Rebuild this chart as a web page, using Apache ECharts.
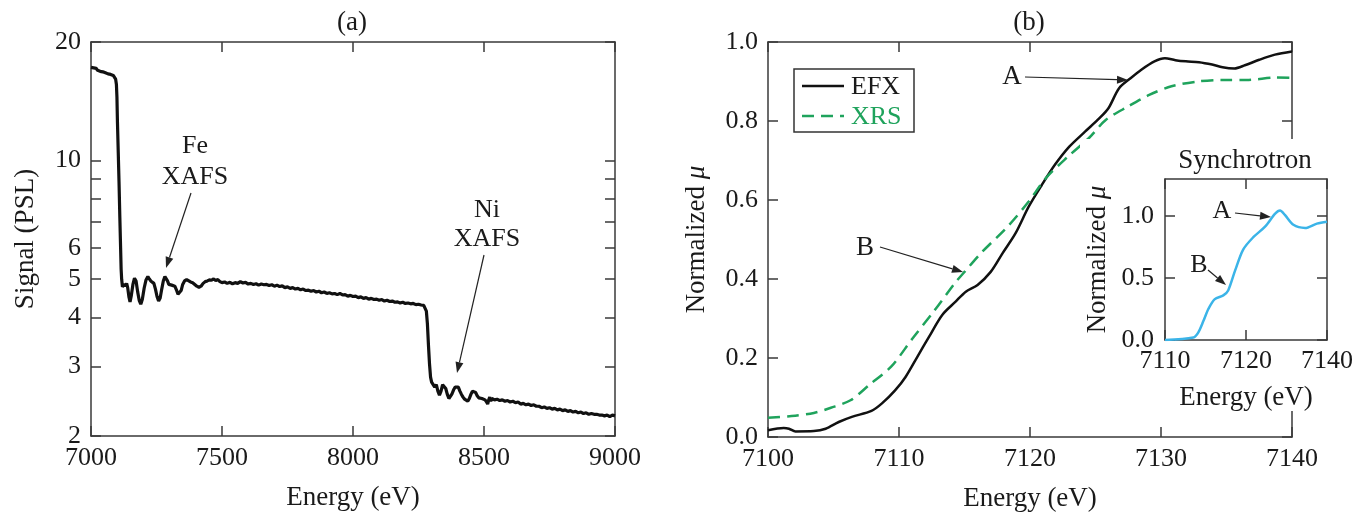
<!DOCTYPE html>
<html><head><meta charset="utf-8">
<script src="https://cdn.jsdelivr.net/npm/echarts@6/dist/echarts.min.js"></script>
<style>html,body{margin:0;padding:0;background:#fff}#c{width:1356px;height:512px}</style>
</head><body><div id="c"></div>
<script>
// ---------- Panel (a): transmitted signal, log scale ----------
const energyA = [7000,7005,7010,7015,7020,7025,7030,7035,7040,7045,7050,7055,7060,7065,7070,7075,7080,7085,7090,7094,7097,7099,7101,7104,7107,7110,7113,7115,7117,7120,7124,7128,7132,7136,7140,7145,7149,7154,7160,7166,7172,7178,7184,7190,7196,7203,7210,7217,7222,7228,7234,7240,7246,7252,7258,7264,7270,7276,7282,7287,7292,7297,7302,7308,7314,7320,7326,7332,7338,7344,7350,7357,7365,7372,7380,7388,7396,7404,7412,7420,7428,7436,7444,7452,7460,7468,7476,7484,7492,7500,7510,7520,7530,7540,7550,7560,7570,7580,7590,7600,7610,7620,7630,7640,7650,7660,7670,7680,7690,7700,7710,7720,7730,7740,7750,7760,7770,7780,7790,7800,7810,7820,7830,7840,7850,7860,7870,7880,7890,7900,7910,7920,7930,7940,7950,7960,7970,7980,7990,8000,8010,8020,8030,8040,8050,8060,8070,8080,8090,8100,8110,8120,8130,8140,8150,8160,8170,8180,8190,8200,8210,8220,8230,8240,8250,8260,8270,8276,8280,8284,8288,8292,8296,8300,8306,8312,8318,8324,8330,8336,8342,8348,8354,8360,8366,8372,8378,8384,8390,8396,8402,8408,8414,8420,8426,8432,8438,8444,8450,8456,8462,8468,8474,8480,8486,8492,8498,8504,8510,8514,8518,8522,8526,8530,8535,8540,8550,8560,8570,8580,8590,8600,8610,8620,8630,8640,8650,8660,8670,8680,8690,8700,8710,8720,8730,8740,8750,8760,8770,8780,8790,8800,8810,8820,8830,8840,8850,8860,8870,8880,8890,8900,8910,8920,8930,8940,8950,8960,8970,8980,8990,9000];
const signalA = [17.25,17.1,17.2,17.05,17.15,16.95,17.0,16.85,16.95,16.8,16.85,16.7,16.8,16.6,16.65,16.55,16.6,16.45,16.35,16.1,15.6,14.5,12.5,10.5,8.8,7.2,6.0,5.3,5.0,4.78,4.80,4.86,4.80,4.88,4.76,4.5,4.38,4.55,4.85,5.03,4.95,4.65,4.42,4.32,4.45,4.75,4.98,5.08,5.02,4.95,4.92,4.88,4.72,4.52,4.40,4.48,4.72,4.95,5.08,5.10,4.95,4.85,4.88,4.83,4.86,4.80,4.70,4.58,4.56,4.68,4.85,4.95,4.99,4.97,4.92,4.90,4.85,4.80,4.77,4.80,4.88,4.93,4.95,4.98,4.97,5.01,4.96,4.99,4.93,4.90,4.92,4.88,4.91,4.87,4.90,4.88,4.93,4.89,4.91,4.86,4.88,4.85,4.87,4.83,4.86,4.84,4.85,4.82,4.84,4.80,4.83,4.79,4.81,4.76,4.78,4.74,4.76,4.72,4.74,4.70,4.72,4.68,4.69,4.66,4.68,4.64,4.66,4.62,4.64,4.60,4.62,4.59,4.60,4.57,4.60,4.56,4.57,4.53,4.55,4.52,4.53,4.49,4.51,4.47,4.49,4.45,4.47,4.44,4.45,4.42,4.44,4.40,4.42,4.39,4.40,4.37,4.38,4.35,4.37,4.34,4.35,4.33,4.34,4.31,4.32,4.30,4.29,4.26,4.15,3.85,3.40,3.05,2.82,2.74,2.72,2.66,2.70,2.60,2.54,2.60,2.70,2.72,2.64,2.55,2.49,2.50,2.56,2.62,2.66,2.63,2.66,2.60,2.55,2.51,2.48,2.46,2.45,2.49,2.55,2.60,2.61,2.58,2.53,2.50,2.52,2.49,2.50,2.47,2.44,2.41,2.47,2.51,2.45,2.49,2.50,2.47,2.48,2.46,2.47,2.45,2.46,2.44,2.45,2.43,2.44,2.41,2.42,2.40,2.41,2.39,2.40,2.38,2.38,2.36,2.37,2.35,2.36,2.34,2.35,2.33,2.34,2.32,2.33,2.31,2.32,2.30,2.31,2.29,2.30,2.28,2.29,2.27,2.28,2.27,2.27,2.26,2.26,2.25,2.26,2.24,2.26,2.25];
const ticksA = [2,3,4,5,6,7,8,9,10,20];
const labelsA = [2,3,4,5,6,10,20];

// ---------- Panel (b): normalized mu ----------
const energyEFX = [7100,7101.2,7101.6,7102.1,7103.5,7104.4,7105.4,7106.4,7107.9,7108.7,7109.7,7110.5,7111.4,7112.3,7113.3,7114.3,7115.1,7116.0,7117.0,7117.9,7118.9,7119.9,7120.9,7121.9,7123.0,7124.2,7125.3,7126.0,7126.8,7127.7,7128.5,7129.5,7130.3,7131.1,7131.9,7132.9,7133.9,7134.7,7135.6,7136.4,7137.5,7138.7,7140];
const muEFX = [0.017,0.023,0.021,0.014,0.015,0.021,0.038,0.051,0.066,0.085,0.118,0.152,0.203,0.254,0.309,0.342,0.368,0.385,0.418,0.465,0.516,0.583,0.638,0.689,0.735,0.773,0.807,0.833,0.883,0.909,0.930,0.951,0.959,0.954,0.951,0.949,0.943,0.936,0.933,0.941,0.955,0.968,0.976];
const energyXRS = [7100,7101.8,7103.5,7104.8,7106.3,7107.7,7109.4,7111.0,7112.7,7114.3,7115.0,7116.3,7118.3,7119.9,7121.2,7122.9,7124.5,7125.8,7127.5,7129.1,7130.8,7132.8,7134.7,7136.7,7138.7,7140];
const muXRS = [0.049,0.053,0.061,0.074,0.093,0.131,0.178,0.248,0.320,0.391,0.418,0.467,0.533,0.596,0.655,0.710,0.757,0.803,0.837,0.866,0.888,0.900,0.904,0.904,0.910,0.909];
const legendNames = ['EFX', 'XRS'];

// ---------- Inset: synchrotron ----------
const energySync = [7100,7107,7108.2,7109.5,7110.7,7112.3,7114.4,7115.6,7117.3,7119.3,7121.8,7124.7,7127.2,7128.4,7129.6,7131.7,7134.6,7137.5,7140];
const muSync = [0.0,0.02,0.06,0.155,0.25,0.33,0.36,0.40,0.56,0.73,0.83,0.915,1.02,1.045,1.01,0.93,0.905,0.94,0.955];
const insetTickLabels = ['7110','7120','7140'];
const insetYTicks = [0,0.5,1.0];

const pair = (xs, ys) => xs.map((x, i) => [x, ys[i]]);

const FONT = 'Liberation Serif';
const AX = '#3a3a3a';
const TXT = '#1a1a1a';
const GREEN = '#1fa35c';
const BLUE = '#3bb4e8';
const FS = 26;
const NFS = 27;

function xAx(grid, min, max, interval, pos, showLabel, extra) {
  return Object.assign({
    gridIndex: grid, type: 'value', min, max, interval, position: pos,
    axisLine: {show: true, onZero: false, lineStyle: {color: AX, width: 1.5}},
    axisTick: {show: true, inside: true, length: 10, lineStyle: {color: AX, width: 1.5}},
    axisLabel: {show: showLabel, margin: 9, fontFamily: FONT, fontSize: FS, color: TXT, formatter: (v) => String(v)},
    splitLine: {show: false}
  }, extra || {});
}
function yAx(grid, min, max, interval, pos, showLabel, extra) {
  return Object.assign({
    gridIndex: grid, type: 'value', min, max, interval, position: pos,
    axisLine: {show: true, onZero: false, lineStyle: {color: AX, width: 1.5}},
    axisTick: {show: true, inside: true, length: 10, lineStyle: {color: AX, width: 1.5}},
    axisLabel: {show: showLabel, margin: 10, fontFamily: FONT, fontSize: FS, color: TXT},
    splitLine: {show: false}
  }, extra || {});
}

const nameStyle = {fontFamily: FONT, fontSize: NFS, color: TXT};
const muName = Object.assign({rich: {i: {fontFamily: FONT, fontSize: NFS, fontStyle: 'italic', color: TXT}}}, nameStyle);

const option = {
  animation: false,
  backgroundColor: '#fff',
  grid: [
    {left: 91, top: 42, width: 524, height: 394, outerBoundsMode: 'none', containLabel: false},
    {left: 768, top: 42, width: 524, height: 395, outerBoundsMode: 'none', containLabel: false},
    {left: 1165, top: 179, width: 162, height: 161, outerBoundsMode: 'none', containLabel: false, z: 60}
  ],
  xAxis: [
    xAx(0, 7000, 9000, 500, 'bottom', true, {name: 'Energy (eV)', nameLocation: 'middle', nameGap: 48, nameTextStyle: nameStyle}),
    xAx(0, 7000, 9000, 500, 'top', false),
    xAx(1, 7100, 7140, 10, 'bottom', true, {name: 'Energy (eV)', nameLocation: 'middle', nameGap: 48, nameTextStyle: nameStyle}),
    xAx(1, 7100, 7140, 10, 'top', false),
    xAx(2, 7100, 7140, 20, 'bottom', true, {z: 60, name: 'Energy (eV)', nameLocation: 'middle', nameGap: 44, nameTextStyle: nameStyle,
      axisLabel: {show: true, margin: 8, fontFamily: FONT, fontSize: FS, color: TXT,
        formatter: (v) => insetTickLabels[Math.round((v - 7100) / 20)]}}),
    xAx(2, 7100, 7140, 20, 'top', false, {z: 60})
  ],
  yAxis: [
    yAx(0, 2, 20, null, 'left', true, {type: 'log', logBase: 10, interval: undefined,
      name: 'Signal (PSL)', nameLocation: 'middle', nameGap: 52, nameTextStyle: nameStyle,
      axisTick: {show: true, inside: true, length: 10, lineStyle: {color: AX, width: 1.5}, customValues: ticksA},
      axisLabel: {show: true, margin: 10, fontFamily: FONT, fontSize: FS, color: TXT, customValues: labelsA}}),
    yAx(0, 2, 20, null, 'right', false, {type: 'log', logBase: 10, interval: undefined,
      axisTick: {show: true, inside: true, length: 10, lineStyle: {color: AX, width: 1.5}, customValues: ticksA}}),
    yAx(1, 0, 1, 0.2, 'left', true, {
      name: 'Normalized {i|μ}', nameLocation: 'middle', nameGap: 58, nameTextStyle: muName,
      axisLabel: {show: true, margin: 10, fontFamily: FONT, fontSize: FS, color: TXT, formatter: (v) => v.toFixed(1)}}),
    yAx(1, 0, 1, 0.2, 'right', false),
    yAx(2, 0, 1.3, null, 'left', true, {z: 60, interval: undefined,
      name: 'Normalized {i|μ}', nameLocation: 'middle', nameGap: 54, nameTextStyle: muName,
      axisTick: {show: true, inside: true, length: 10, lineStyle: {color: AX, width: 1.5}, customValues: insetYTicks},
      axisLabel: {show: true, margin: 11, fontFamily: FONT, fontSize: FS, color: TXT, customValues: insetYTicks, formatter: (v) => v.toFixed(1)}}),
    yAx(2, 0, 1.3, null, 'right', false, {z: 60, interval: undefined,
      axisTick: {show: true, inside: true, length: 10, lineStyle: {color: AX, width: 1.5}, customValues: insetYTicks}})
  ],
  series: [
    {name: 'Signal', type: 'line', xAxisIndex: 0, yAxisIndex: 0, data: pair(energyA, signalA),
      showSymbol: false, symbol: 'none', lineStyle: {color: '#111', width: 3.2}, itemStyle: {color: '#111'}},
    {name: legendNames[0], type: 'line', xAxisIndex: 2, yAxisIndex: 2, data: pair(energyEFX, muEFX), smooth: 0.3,
      showSymbol: false, symbol: 'none', lineStyle: {color: '#111', width: 2.5}, itemStyle: {color: '#111'}},
    {name: legendNames[1], type: 'line', xAxisIndex: 2, yAxisIndex: 2, data: pair(energyXRS, muXRS), smooth: 0.3,
      showSymbol: false, symbol: 'none', lineStyle: {color: GREEN, width: 2.5, type: [12, 7]}, itemStyle: {color: GREEN}},
    {name: 'Synchrotron', type: 'line', xAxisIndex: 4, yAxisIndex: 4, data: pair(energySync, muSync), smooth: 0.3, z: 60,
      showSymbol: false, symbol: 'none', lineStyle: {color: BLUE, width: 2.5}, itemStyle: {color: BLUE}}
  ]
};

const chart = echarts.init(document.getElementById('c'), null, {renderer: 'canvas'});
chart.setOption(option);

function arrow(x1, y1, x2, y2) {
  const a = Math.atan2(y2 - y1, x2 - x1), L = 11, W = 4;
  const bx = x2 - L * Math.cos(a), by = y2 - L * Math.sin(a);
  const px = -Math.sin(a) * W, py = Math.cos(a) * W;
  return [
    {type: 'line', z: 70, shape: {x1, y1, x2: bx, y2: by}, style: {stroke: '#222', lineWidth: 1.2}},
    {type: 'polygon', z: 70, shape: {points: [[x2, y2], [bx + px, by + py], [bx - px, by - py]]}, style: {fill: '#222'}}
  ];
}
function txt(x, y, s, size, color, align) {
  return {type: 'text', z: 70, x, y, style: {text: s, fontFamily: FONT, fontSize: size || NFS, fill: color || TXT, align: align || 'center', verticalAlign: 'middle'}};
}

const g = [
  {type: 'rect', z: 50, shape: {x: 1080, y: 139, width: 276, height: 272}, style: {fill: '#fff'}},
  txt(352, 23, '(a)'), txt(1029, 23, '(b)'),
  txt(195, 146, 'Fe', 26), txt(195, 177, 'XAFS', 26),
  txt(487, 210, 'Ni', 26), txt(487, 239, 'XAFS', 26),
  txt(1012, 77, 'A'), txt(865, 248, 'B'),
  txt(1245, 161, 'Synchrotron'),
  txt(1222, 211, 'A', 26), txt(1199, 265, 'B', 26),
  ...arrow(191, 193, 166, 268),
  ...arrow(484, 255, 457, 373),
  ...arrow(1025, 77, 1128, 80),
  ...arrow(880, 247, 963, 272),
  ...arrow(1235, 213, 1271, 217),
  ...arrow(1208, 270, 1226, 285),
  // legend box
  {type: 'rect', z: 70, shape: {x: 794, y: 69, width: 120, height: 63}, style: {fill: '#fff', stroke: '#333', lineWidth: 1.5}},
  {type: 'line', z: 71, shape: {x1: 802, y1: 86, x2: 844, y2: 86}, style: {stroke: '#111', lineWidth: 2.5}},
  {type: 'line', z: 71, shape: {x1: 802, y1: 116, x2: 844, y2: 116}, style: {stroke: GREEN, lineWidth: 2.5, lineDash: [12, 7]}},
  txt(851, 87, legendNames[0], 26, TXT, 'left'),
  txt(851, 117, legendNames[1], 26, GREEN, 'left')
];
chart.setOption({graphic: {elements: g}});
</script></body></html>
